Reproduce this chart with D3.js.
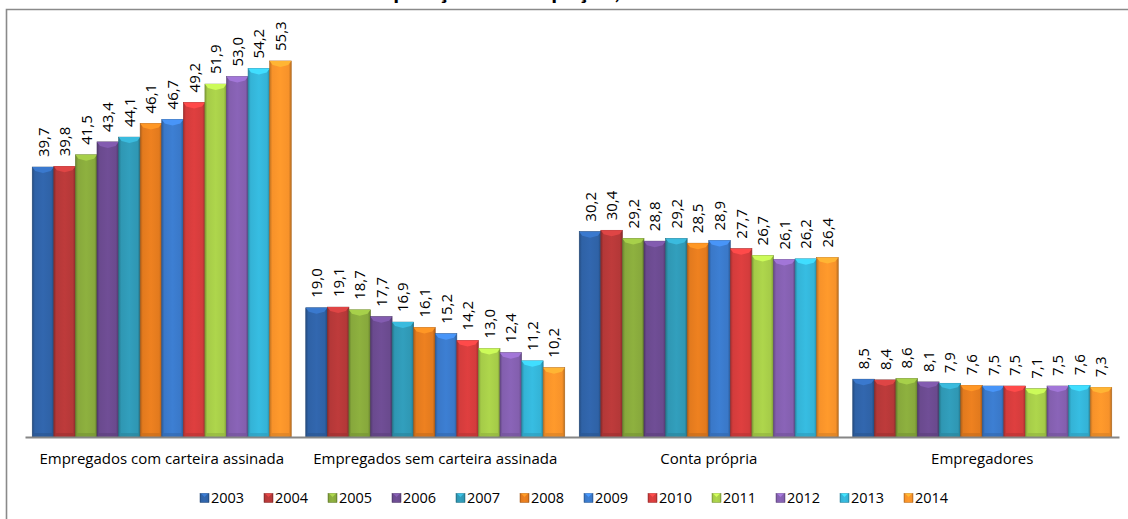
<!DOCTYPE html>
<html>
<head>
<meta charset="utf-8">
<script src="https://cdn.jsdelivr.net/npm/d3@7"></script>
<style>
  body { margin: 0; background: #fff; }
  svg { display: block; font-family: "Open Sans", sans-serif; }
</style>
</head>
<body>
<script>
// dados (% dos ocupados)
var categorias = ["Empregados com carteira assinada", "Empregados sem carteira assinada", "Conta própria", "Empregadores"];
var anos = ["2003", "2004", "2005", "2006", "2007", "2008", "2009", "2010", "2011", "2012", "2013", "2014"];
var comCarteira = [39.7, 39.8, 41.5, 43.4, 44.1, 46.1, 46.7, 49.2, 51.9, 53.0, 54.2, 55.3];
var semCarteira = [19.0, 19.1, 18.7, 17.7, 16.9, 16.1, 15.2, 14.2, 13.0, 12.4, 11.2, 10.2];
var contaPropria = [30.2, 30.4, 29.2, 28.8, 29.2, 28.5, 28.9, 27.7, 26.7, 26.1, 26.2, 26.4];
var empregadores = [8.5, 8.4, 8.6, 8.1, 7.9, 7.6, 7.5, 7.5, 7.1, 7.5, 7.6, 7.3];
var valores = [comCarteira, semCarteira, contaPropria, empregadores];

var cores = ["#2f62a6", "#b43838", "#87a83c", "#6a4a8e", "#2f97b3", "#e27a1e",
             "#3a78c8", "#d33c3c", "#a5cb48", "#835fae", "#34b3d6", "#f7922a"];

var width = 1128, height = 519;
var baseY = 437;

var svg = d3.select("body").append("svg")
    .attr("width", width)
    .attr("height", height);

var defs = svg.append("defs");

// gradiente por cor, para dar o efeito de biselado das barras do Excel
cores.forEach(function(c, i) {
  var g = defs.append("linearGradient").attr("id", "grad" + i)
      .attr("x1", "0%").attr("x2", "100%").attr("y1", "0%").attr("y2", "0%");
  g.append("stop").attr("offset", "0%").attr("stop-color", d3.color(c).darker(0.7));
  g.append("stop").attr("offset", "12%").attr("stop-color", c);
  g.append("stop").attr("offset", "50%").attr("stop-color", d3.color(c).brighter(0.15));
  g.append("stop").attr("offset", "88%").attr("stop-color", c);
  g.append("stop").attr("offset", "100%").attr("stop-color", d3.color(c).darker(0.8));
});

// título (cortado no topo na imagem original)
svg.append("text")
    .attr("x", 557)
    .attr("y", -1)
    .attr("text-anchor", "middle")
    .style("font-size", "24px")
    .style("font-weight", "bold")
    .style("font-family", "Lato, sans-serif")
    .text("posição na ocupação, 2003/14");

// moldura
svg.append("path")
    .attr("d", "M6.5," + height + "V9.5H" + width)
    .attr("fill", "none")
    .attr("stroke", "#8a8a8a")
    .attr("stroke-width", 1.6);

// escalas
var x0 = d3.scaleBand().domain(categorias).range([25, 1119])
    .paddingInner(0.053).paddingOuter(0.0265);
var x1 = d3.scaleBand().domain(anos).range([0, x0.bandwidth()]);
var y = d3.scaleLinear().domain([0, 60]).range([baseY, baseY - 60 * 6.8]);

var grupos = svg.selectAll(".grupo")
    .data(categorias)
  .enter().append("g")
    .attr("class", "grupo")
    .attr("transform", function(d) { return "translate(" + x0(d) + ",0)"; });

var barras = grupos.selectAll(".barra")
    .data(function(d, i) {
      return valores[i].map(function(v, j) { return {ano: anos[j], valor: v, idx: j}; });
    })
  .enter().append("g")
    .attr("class", "barra");

barras.append("rect")
    .attr("x", function(d) { return x1(d.ano); })
    .attr("y", function(d) { return y(d.valor); })
    .attr("width", x1.bandwidth())
    .attr("height", function(d) { return baseY - y(d.valor); })
    .attr("fill", function(d) { return "url(#grad" + d.idx + ")"; })
    .attr("stroke", function(d) { return d3.color(cores[d.idx]).darker(1); })
    .attr("stroke-width", 0.6);

// topo claro do bisel
barras.append("path")
    .attr("d", function(d) {
      var bx = x1(d.ano), by = y(d.valor), w = x1.bandwidth();
      return "M" + bx + "," + by + "H" + (bx + w) + "L" + (bx + w - 3) + "," + (by + 4) +
             "L" + (bx + w / 2) + "," + (by + 6) + "L" + (bx + 3) + "," + (by + 4) + "Z";
    })
    .attr("fill", function(d) { return d3.color(cores[d.idx]).brighter(0.6); });

// base escura
barras.append("rect")
    .attr("x", function(d) { return x1(d.ano) + 2; })
    .attr("y", baseY - 4)
    .attr("width", x1.bandwidth() - 4)
    .attr("height", 3)
    .attr("fill", function(d) { return d3.color(cores[d.idx]).darker(0.4); })
    .attr("opacity", 0.6);

// rótulos de valor
barras.append("text")
    .attr("transform", function(d) {
      return "translate(" + (x1(d.ano) + x1.bandwidth() / 2 + 5.5) + "," + (y(d.valor) - 10) + ") rotate(-90)";
    })
    .style("font-size", "15px")
    .attr("fill", "#000")
    .text(function(d) { return d.valor.toFixed(1).replace(".", ","); });

// eixo x com as categorias
var eixo = svg.append("g")
    .attr("transform", "translate(0," + baseY + ")")
    .call(d3.axisBottom(x0).tickSize(0).tickPadding(16));
eixo.select(".domain").attr("stroke", "#868686").attr("stroke-width", 2);
eixo.selectAll("text")
    .style("font-size", "15px")
    .style("font-family", "'Open Sans', sans-serif")
    .attr("fill", "#000");

// legenda
var legenda = svg.append("g").attr("transform", "translate(200,498)");
var itens = legenda.selectAll(".item")
    .data(anos)
  .enter().append("g")
    .attr("class", "item")
    .attr("transform", function(d, i) { return "translate(" + (i * 64) + ",0)"; });

itens.append("rect")
    .attr("x", 0).attr("y", -4.5)
    .attr("width", 9).attr("height", 9)
    .attr("fill", function(d, i) { return "url(#grad" + i + ")"; })
    .attr("stroke", function(d, i) { return d3.color(cores[i]).darker(1); })
    .attr("stroke-width", 0.5);
itens.append("path")
    .attr("d", "M1,-4.5H8L4.5,-1Z")
    .attr("fill", function(d, i) { return d3.color(cores[i]).brighter(0.7); });

itens.append("text")
    .attr("x", 11)
    .attr("dy", "0.35em")
    .style("font-size", "14.5px")
    .text(function(d) { return d; });
</script>
</body>
</html>
